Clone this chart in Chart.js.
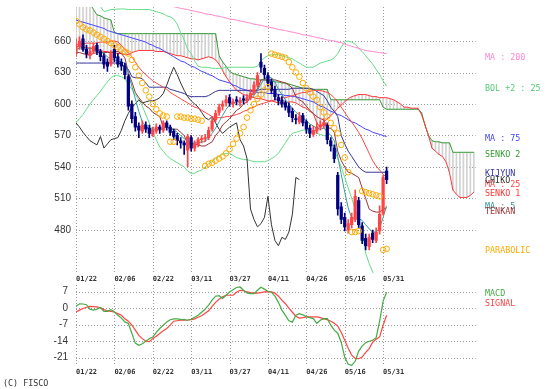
<!DOCTYPE html>
<html><head><meta charset="utf-8">
<script src="https://cdn.jsdelivr.net/npm/chart.js@4.4.1/dist/chart.umd.min.js"></script>
<style>
html,body{margin:0;padding:0;background:#fff;}
#wrap{position:relative;width:553px;height:389px;overflow:hidden;background:#fff;}
canvas{position:absolute;left:0;}
.lbl{position:absolute;font-family:"DejaVu Sans Mono",monospace;font-size:8.4px;line-height:10px;height:10px;white-space:nowrap;margin-top:-5px;}
</style></head><body>
<div id="wrap">
<canvas id="main" width="553" height="284" style="top:0"></canvas>
<canvas id="macd" width="553" height="105" style="top:284px"></canvas>
</div>
<script>
// ---------- tick labels ----------
const dates   = ['01/22','02/06','02/22','03/11','03/27','04/11','04/26','05/16','05/31'];
const dateIdx = [0,11,22,33,44,55,66,77,88];
const yTicks  = [480,510,540,570,600,630,660];
const macdTicks = [7,0,-7,-14,-21];

// ---------- candles ----------
const open = [648,655,662,652,646,650,656,650,646,640, 638,652,645,640,636,626,600,588,579,574, 580,577,571,574,578,575,582,578,574,570, 565,563,556,568,558,561,566,567,568,576, 585,592,598,601,606,600,604,601,605,603, 606,611,618,640,634,627,621,614,606,604, 601,598,593,586,583,589,583,577,571,574, 578,579,580,565,558,532,502,492,480,485, 490,508,484,472,464,477,470,479,496,536];
const high = [662,664,666,656,654,658,658,652,648,643, 651,656,648,643,639,628,603,592,582,584, 583,580,578,581,580,584,584,580,576,572, 568,565,571,570,565,568,570,571,578,587, 594,600,603,608,609,605,607,606,608,609, 614,621,630,648,637,630,624,617,609,607, 603,601,596,590,592,591,585,580,579,582, 584,586,582,568,561,535,506,496,490,496, 518,511,487,476,476,480,482,503,532,540];
const low  = [645,652,650,644,643,648,647,641,634,631, 636,640,635,632,624,594,582,574,568,572, 573,568,569,572,572,573,575,570,566,561, 558,552,540,555,555,559,563,564,566,574, 583,589,594,598,598,597,599,598,600,601, 604,609,616,630,624,617,610,604,599,597, 594,588,583,581,581,579,572,568,569,572, 575,577,562,555,544,494,486,479,477,482, 488,482,467,461,461,468,468,476,494,524];
const close= [655,660,652,648,650,655,650,645,638,636, 648,644,638,636,628,598,586,578,575,580, 576,572,575,578,576,582,578,573,569,565, 563,561,569,558,562,566,567,568,575,584, 591,597,600,604,601,602,603,603,604,606, 610,618,627,635,628,620,613,607,603,600, 597,592,587,585,588,582,576,572,575,578, 580,582,566,560,548,500,490,483,486,492, 512,485,470,465,473,471,478,495,530,528];

// ---------- indicator lines ----------
const ma5 = [652,653,654,653,653,653,651,650,648,645, 643,642,641,640,639,629,617,605,593,583, 579,576,576,576,575,577,578,577,576,573, 570,567,565,563,563,563,564,564,568,572, 577,583,589,595,599,601,602,603,603,604, 605,608,613,619,624,626,625,621,614,609, 604,600,596,592,590,587,584,581,579,577, 576,577,574,570,565,550,533,516,501,491, 492,491,489,485,481,478,478,482,492,503];
const tenkan = [649,649,648,647,647,648,649,649,649,649, 649,650,650,648,644,630,621,611,606,602, 598,596,592,590,588,578,578,576,576,576, 573,570,562,562,562,561,560,560,562,564, 570,574,580,583,586,590,594,596,600,602, 606,612,614,623,623,623,623,623,622,621, 620,618,615,607,604,602,598,594,591,588, 586,585,577,577,573,555,546,540,535,534, 532,530,520,510,500,498,497,497,500,501];
const kijun = [639,639,639,639,639,639,639,639,639,639, 639,639,639,638,636,633,626,625,625,624, 620,616,616,616,616,616,616,614,613,612, 611,610,608,607,607,607,607,607,608,610, 612,613,613,613,613,613,613,613,613,613, 613,613,613,614,614,614,614,614,614,614, 614,614,615,615,615,615,615,615,614,612, 610,608,603,597,593,588,570,562,555,550, 545,540,537,535,535,535,535,535,535,535];
const ma25 = [656,657,657,658,658,658,658,659,659,659, 660,660,659,656,652,649,645,640,635,631, 628,625,622,620,618,616,614,611,609,607, 605,603,601,599,597,596,594,592,590,588, 587,587,587,588,588,589,590,591,593,594, 596,597,599,600,601,602,603,604,605,606, 606,607,608,609,610,611,611,612,613,613, 613,612,611,609,606,602,597,592,587,583, 578,573,567,560,553,546,541,537,533,530];
const ma75 = [680,679,678,677,676,675,674,673,672,670, 669,668,667,666,665,664,663,662,661,660, 659,657,656,654,653,651,649,647,645,643, 641,640,638,636,635,633,631,630,628,627, 625,623,622,621,620,618,617,615,614,613, 612,612,611,611,611,610,610,610,609,609, 608,608,607,607,606,605,604,603,602,600, 598,597,595,593,592,590,589,587,585,583, 582,580,578,576,575,573,572,571,570,569];
const ma200 = [null,null,null,null,null,null,null,null,null,null, null,null,null,null,null,null,null,null,null,null, null,null,null,697,696,695,694,693.5,692.7,692, 691,690.5,690,689,688.5,687.7,687,686,685.5,685, 684,683.5,682.7,682,681,680.5,680,679,678.5,677.7, 677,676,675.5,675,674,673.5,672.7,672,671,670.5, 670,669,668.5,667.7,667,666,665.5,665,664,663.5, 662.7,662,661,660.5,660,659,658.5,657,656,655, 654,653,652,651,650.5,650,649.5,649,648.5,648];
const bolUp = [700,699,698,697,696,695,694,693,688,689, 690,690,690.5,690.5,690.5,690,690,690,690,690, 690,690,689,688,687,686,684,683,681,676, 668,661,652,648,641,636,635,635,635,634, 634,634,634,635,635,635,635,635,635,635, 635,635,636,641,644,646,647,647,647,646, 645,644,643,641,639,637,635,635,635,637, 639,640,641,642,644,648,654,659,660,659, 657,653,650,646,642,638,633,628,622,617];
const bolLow = [582,586,590,595,600,604,608,612,617,621, 625,627,627,626,624,619,614,609,604,598, 590,582,573,566,559,555,551,548,546,544, 542,540,536,534,534,536,537,540,543,545, 548,550,552,553,553,551,549,548,547,547, 546,545,545,545,545,546,548,550,553,558, 563,568,572,573,574,575,575,574,573,572, 571,570,569,563,556,548,540,530,520,510, 500,489,477,458,448,440,434,428,424,420];
const senko1 = [655,655,654,654,653,653,652,651,650,650, 649,649,648,648,647,647,649,650,651,651, 651,651,651,650,650,650,649,648,647,646, 646,645,644,643,643,642,643,644,645,644, 642,638,632,626,621,617,613,611,609,608, 607,606,605,605,604,603,603,602,601,601, 601,602,602,601,599,597,596,593,591,582, 578,583,586,589,592,596,599,602,605,607, 608,609,609,609,608,607,607,606,606,606, 605,604,602,600,597,597,596,596,596,590, 580,570,558,555,552,550,545,535,518,514, 511,511,511,513,516];
const senko2 = [700,699,698,697,696,690,685,684,682,681, 680,668,667,667,667,667,667,667,667,667, 667,667,667,667,667,667,667,667,667,667, 667,667,667,667,667,667,667,667,667,667, 667,646,640,636,631,629,628,627,626,625, 624,624,623,623,623,622,622,621,621,620, 620,619,618,617,616,615,615,614,614,614, 614,614,614,604,604,604,604,604,604,604, 604,604,604,604,604,604,604,604,597,595, 595,595,595,595,595,595,595,595,595,592, 580,570,565,564,564,563,563,563,554,554, 554,554,554,554,554];
const parabolic = [679,676,673,671,670,668,666,664,662,660, 658,656,654,652,650,648,642,635,627,620, 613,607,600,595,591,589,588,564,564,588, 588,587,587,586,586,585,584,541,543,544, 546,548,550,553,557,562,567,572,578,587, 594,600,605,609,613,616,648,647,646,645, 644,640,635,630,626,620,615,611,607,604, 597,592,588,582,577,572,561,549,535,478, 478,479,517,516,515,514,513,512,461,462];
const chikoShift = 25;

// ---------- MACD ----------
const macd = [0.8,1.9,1.8,1.5,-0.4,-0.8,-0.4,0.3,-1.3,-1.3, -0.6,-1.5,-3.0,-4.2,-5.8,-6.5,-10.6,-14.8,-15.7,-15.1, -14,-12.9,-12.2,-10.2,-8.6,-7.2,-5.8,-4.9,-4.5,-4.5, -4.7,-4.8,-5.1,-4.7,-3.8,-3,-1.7,-0.4,1.3,3.4, 5.1,5.3,4.1,5.5,6.9,7.8,8.8,9.0,7.6,6.5, 6.2,6.2,7.6,8.9,8.1,7.2,6.8,5.1,2.5,-0.8, -3,-5.3,-5.9,-3,-2.3,-2.8,-3.6,-4,-4.4,-6.4, -5.1,-4.4,-4.4,-7.2,-9.3,-10.6,-14.4,-20.8,-23.8,-24.2, -22.5,-18.2,-16.1,-14.6,-14,-13.6,-12.5,-5.5,3,6.8];
const signal = [-1.6,-0.8,-0.1,0.4,0.8,0.7,0.6,0.2,-0.6,-1.1, -1.3,-1.7,-2.3,-3,-4.5,-5.5,-7.2,-9.3,-11.5,-12.9, -14,-14.2,-12.9,-11.9,-10.7,-9.5,-8.6,-7.2,-5.5,-5.3, -5.1,-5.1,-5,-4.8,-4.5,-3.8,-3.2,-2.1,-1.1,0.8, 2.5,3.8,4.9,5.5,5.5,5.5,6.8,7.6,7.4,6.9, 6.6,6.4,6.4,6.6,6.9,7,6.9,6.4,5.1,3.4, 1.9,0,-1.7,-3.4,-4.2,-4,-3.7,-3.7,-3.7,-3.7, -4,-4.5,-4.8,-5.5,-6.4,-7.6,-10.2,-13.6,-17,-19.9, -21.3,-21.4,-20.7,-18.7,-17.1,-14.4,-13.2,-12.2,-7.2,-3];

// ---------- legend texts (right side) ----------
const legendItems = [
  ['MA : 200','#ff88cc',57],['BOL +2 : 25','#55cc77',88],['MA : 75','#4444ff',138],
  ['SENKO 2','#339933',153.5],['KIJYUN','#333399',173],['MA : 25','#ff4444',184],
  ['CHIKO','#333333',180],['SENKO 1','#ff3333',192.5],['MA : 5','#339999',205.5],
  ['TENKAN','#993333',210.5],['PARABOLIC','#ffaa00',250],
  ['MACD','#44aa44',292.5],['SIGNAL','#ff4444',302.5]
];

const wrap = document.getElementById('wrap');
legendItems.forEach(([t,c,y])=>{
  const d=document.createElement('div'); d.className='lbl'; d.textContent=t;
  d.style.left='485px'; d.style.top=y+'px'; d.style.color=c; wrap.appendChild(d);
});
const fisco=document.createElement('div'); fisco.className='lbl'; fisco.textContent='(C) FISCO';
fisco.style.left='3px'; fisco.style.top='383px'; fisco.style.color='#333'; wrap.appendChild(fisco);

// ---------- helpers ----------
const pts = arr => arr.map((v,i)=> v==null?null:{x:i,y:v}).filter(Boolean);
const lineDs = (label, arr, color, order, w=1) => ({type:'line', label, data:pts(arr), borderColor:color, borderWidth:w, pointRadius:0, tension:0, fill:false, order});
const RED='#ff4444', NAVY='#000080';
const candleColors = close.map((c,i)=> c>=open[i]?RED:NAVY);

const gridPlugin = (yv, xv) => ({
  id:'dotGrid',
  beforeDatasetsDraw(chart){
    const {ctx, chartArea:a, scales:{x,y}} = chart;
    ctx.save(); ctx.strokeStyle='#9a9a9a'; ctx.lineWidth=1; ctx.setLineDash([1,2]);
    yv.forEach(v=>{ const py=Math.round(y.getPixelForValue(v))+0.5; ctx.beginPath(); ctx.moveTo(a.left,py); ctx.lineTo(a.right,py); ctx.stroke(); });
    xv.forEach(v=>{ const px=Math.round(x.getPixelForValue(v))+0.5; ctx.beginPath(); ctx.moveTo(px,a.top); ctx.lineTo(px,a.bottom); ctx.stroke(); });
    ctx.restore();
  }
});

const xAxis = (h) => ({
  type:'linear', min:0, max:114.5, offset:false,
  grid:{display:false, drawTicks:false}, border:{display:false},
  afterBuildTicks:s=>{ s.ticks = dateIdx.map(v=>({value:v})); },
  afterFit:s=>{ s.height=h; s.paddingLeft=0; s.paddingRight=0; },
  ticks:{autoSkip:false, maxRotation:0, minRotation:0, align:'start', padding:2, color:'#333',
         font:{family:'DejaVu Sans Mono', size:7, weight:'bold'}, callback:(v,i)=>dates[i]}
});
const yAxis = (mn, mx, tv, pad) => ({
  type:'linear', min:mn, max:mx,
  grid:{display:false, drawTicks:false}, border:{display:false},
  afterBuildTicks:s=>{ s.ticks = tv.map(v=>({value:v})); },
  afterFit:s=>{ s.width=76; s.paddingTop=0; s.paddingBottom=0; },
  ticks:{padding:pad, color:'#333', font:{family:'Liberation Sans', size:10}}
});
const baseOpts = {responsive:false, animation:false, devicePixelRatio:1, events:[],
  plugins:{legend:{display:false}, tooltip:{enabled:false}}};

// ---------- main chart ----------
new Chart(document.getElementById('main'), {
  type:'line',
  data:{datasets:[
    {type:'line', label:'PARABOLIC', data:pts(parabolic), showLine:false, pointRadius:2.8, pointStyle:'circle',
     pointBorderColor:'#ffaa00', pointBackgroundColor:'rgba(255,255,255,0)', pointBorderWidth:1, order:0},
    {type:'bar', label:'body', data:open.map((o,i)=>({x:i,y:[o,close[i]]})), backgroundColor:candleColors,
     barThickness:2.6, grouped:false, borderWidth:0, order:1},
    {type:'bar', label:'wick', data:low.map((l,i)=>({x:i,y:[l,high[i]]})), backgroundColor:candleColors,
     barThickness:1, grouped:false, borderWidth:0, order:2},
    lineDs('MA5', ma5, '#33a0a0', 3),
    lineDs('TENKAN', tenkan, '#993333', 4),
    lineDs('MA25', ma25, '#ff4444', 5),
    {type:'line', label:'CHIKO', data:close.map((v,i)=> i>=chikoShift?{x:i-chikoShift,y:v}:null).filter(Boolean),
     borderColor:'#333333', borderWidth:1, pointRadius:0, tension:0, fill:false, order:6},
    lineDs('KIJYUN', kijun, '#333399', 7),
    lineDs('MA75', ma75, '#4444ff', 8),
    lineDs('MA200', ma200, '#ff88cc', 9),
    lineDs('BOLUP', bolUp, '#66dd88', 10),
    lineDs('BOLLOW', bolLow, '#66dd88', 10),
    lineDs('SENKO1', senko1, '#ff3333', 11),
    lineDs('SENKO2', senko2, '#339933', 12),
    {type:'bar', label:'cloud', data:senko1.map((s,i)=>({x:i,y:[s,senko2[i]]})), backgroundColor:'#d2d2d2',
     barThickness:1, grouped:false, borderWidth:0, order:20}
  ]},
  options:Object.assign({}, baseOpts, {
    layout:{padding:{left:0,right:77.4,top:7,bottom:0}},
    scales:{x:xAxis(11), y:yAxis(439,692.4,yTicks,5)}
  }),
  plugins:[gridPlugin(yTicks, dateIdx)]
});

// ---------- MACD chart ----------
new Chart(document.getElementById('macd'), {
  type:'line',
  data:{datasets:[
    lineDs('MACD', macd, '#44aa44', 0, 1.2),
    lineDs('SIGNAL', signal, '#ff4444', 1, 1.2)
  ]},
  options:Object.assign({}, baseOpts, {
    layout:{padding:{left:0,right:77.4,top:1,bottom:0}},
    scales:{x:xAxis(23), y:yAxis(-24.5,9.85,macdTicks,8)}
  }),
  plugins:[gridPlugin(macdTicks, dateIdx)]
});
</script>
</body></html>
